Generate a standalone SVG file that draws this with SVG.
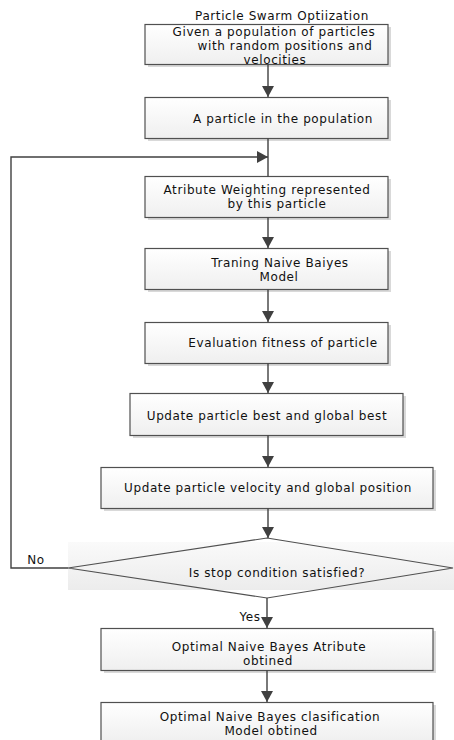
<svg xmlns="http://www.w3.org/2000/svg" width="454" height="740" viewBox="0 0 454 740">
<defs>
<linearGradient id="bf" x1="0" y1="0" x2="0" y2="1">
<stop offset="0" stop-color="#ffffff"/>
<stop offset="1" stop-color="#efefef"/>
</linearGradient>
<linearGradient id="dg" x1="0" y1="0" x2="0" y2="1">
<stop offset="0" stop-color="#fafafa"/>
<stop offset="1" stop-color="#ececec"/>
</linearGradient>
<marker id="ah" markerWidth="12" markerHeight="12" refX="11" refY="6" orient="auto" markerUnits="userSpaceOnUse">
<path d="M0,0 L11,6 L0,12 Z" fill="#404040"/>
</marker>
</defs>
<style>
.box{fill:url(#bf);stroke:#505050;stroke-width:1.2}
.sh{fill:#d9d9d9}
.t{font-family:"DejaVu Sans","Liberation Sans",sans-serif;font-size:12px;letter-spacing:0.6px;fill:#111;text-anchor:middle}
.c{fill:none;stroke:#404040;stroke-width:1.4}
</style>
<rect width="454" height="740" fill="#ffffff"/>
<text class="t" x="282" y="20">Particle Swarm Optiization</text>

<g id="n1">
<rect class="sh" x="148" y="27" width="243" height="40"/>
<rect class="box" x="145" y="24.5" width="243" height="40"/>
<text class="t" x="274" y="35.5">Given a population of particles</text>
<text class="t" x="285" y="49.5">with random positions and</text>
<text class="t" x="275" y="63.5">velocities</text>
</g>
<g id="n2">
<rect class="sh" x="148" y="100" width="243" height="41"/>
<rect class="box" x="145" y="97.5" width="243" height="41"/>
<text class="t" x="283" y="122.5">A particle in the population</text>
</g>
<g id="n3">
<rect class="sh" x="148" y="179" width="243" height="41"/>
<rect class="box" x="145" y="176.5" width="243" height="41"/>
<text class="t" x="267" y="193.5">Atribute Weighting represented</text>
<text class="t" x="277" y="207.5">by this particle</text>
</g>
<g id="n4">
<rect class="sh" x="148" y="251" width="243" height="41"/>
<rect class="box" x="145" y="248.5" width="243" height="41"/>
<text class="t" x="280" y="266.5">Traning Naive Baiyes</text>
<text class="t" x="279" y="280.5">Model</text>
</g>
<g id="n5">
<rect class="sh" x="148" y="325" width="243" height="41"/>
<rect class="box" x="145" y="322.5" width="243" height="41"/>
<text class="t" x="283" y="346.5">Evaluation fitness of particle</text>
</g>
<g id="n6">
<rect class="sh" x="133" y="396" width="273" height="42"/>
<rect class="box" x="130" y="393.5" width="273" height="42"/>
<text class="t" x="267" y="419.5">Update particle best and global best</text>
</g>
<g id="n7">
<rect class="sh" x="104" y="470" width="332" height="41"/>
<rect class="box" x="101" y="467.5" width="332" height="41"/>
<text class="t" x="268" y="491.5">Update particle velocity and global position</text>
</g>
<g id="n8">
<rect x="68" y="542" width="386" height="48" fill="url(#dg)"/>
<path d="M267,538 L453,568 L267,598 L68,568 Z" fill="none" stroke="#505050" stroke-width="1.1"/>
<text class="t" x="277" y="576.5">Is stop condition satisfied?</text>
</g>
<g id="n9">
<rect class="sh" x="104" y="631" width="332" height="42"/>
<rect class="box" x="101" y="628.5" width="332" height="42"/>
<text class="t" x="269" y="651">Optimal Naive Bayes Atribute</text>
<text class="t" x="268" y="665">obtined</text>
</g>
<g id="n10">
<rect class="sh" x="104" y="705" width="332" height="40"/>
<rect class="box" x="101" y="702.5" width="332" height="40"/>
<text class="t" x="270" y="720.5">Optimal Naive Bayes clasification</text>
<text class="t" x="271" y="734.5">Model obtined</text>
</g>

<g id="connectors">
<path class="c" d="M268,64.5 V97" marker-end="url(#ah)"/>
<path class="c" d="M268,138.5 V176.5"/>
<path class="c" d="M68,568 H11 V157 H268" marker-end="url(#ah)"/>
<path class="c" d="M268,217.5 V248" marker-end="url(#ah)"/>
<path class="c" d="M268,289.5 V322" marker-end="url(#ah)"/>
<path class="c" d="M268,363.5 V393" marker-end="url(#ah)"/>
<path class="c" d="M268,435.5 V467" marker-end="url(#ah)"/>
<path class="c" d="M268,508.5 V538" marker-end="url(#ah)"/>
<path class="c" d="M267,598 V628" marker-end="url(#ah)"/>
<path class="c" d="M267,670.5 V702" marker-end="url(#ah)"/>
<text class="t" x="36" y="564">No</text>
<text class="t" x="250" y="621">Yes</text>
</g>
</svg>
